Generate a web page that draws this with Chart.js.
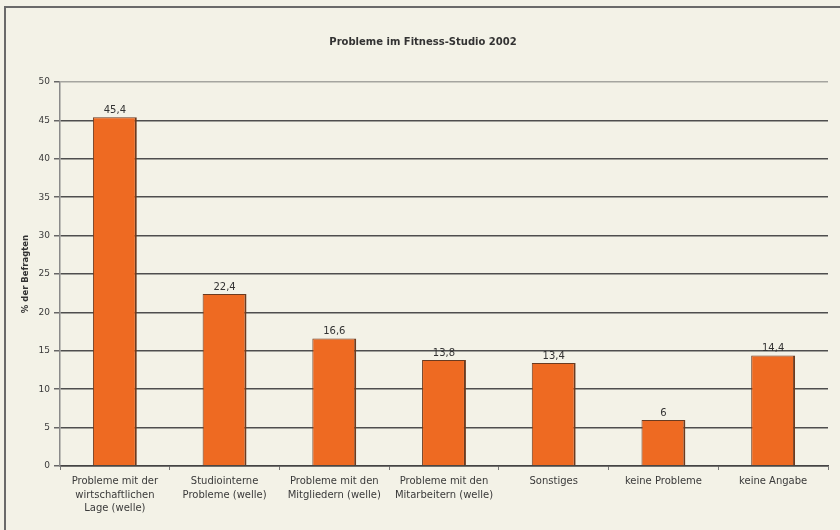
<!DOCTYPE html>
<html>
<head>
<meta charset="utf-8">
<script src="https://cdn.jsdelivr.net/npm/chart.js@4/dist/chart.umd.min.js"></script>
<style>
    html, body { margin: 0; padding: 0; background: #f3f2e7; }
    #wrap { position: relative; width: 840px; height: 530px; }
    #frame { position: absolute; left: 4px; top: 6px; width: 840px; height: 530px;
             border-top: 2px solid #6a6a6a; border-left: 2px solid #6a6a6a; pointer-events: none; }
</style>
</head>
<body>
<div id="wrap">
    <canvas id="chart" width="840" height="530"></canvas>
    <div id="frame"></div>
</div>
<script>
// Probleme im Fitness-Studio 2002
const categories = [
    ['Probleme mit der', 'wirtschaftlichen', 'Lage (welle)'],
    ['Studiointerne', 'Probleme (welle)'],
    ['Probleme mit den', 'Mitgliedern (welle)'],
    ['Probleme mit den', 'Mitarbeitern (welle)'],
    'Sonstiges',
    'keine Probleme',
    'keine Angabe'
];
const values = [45.4, 22.4, 16.6, 13.8, 13.4, 6, 14.4];
const valueLabels = ['45,4', '22,4', '16,6', '13,8', '13,4', '6', '14,4'];
const yTicks = [0, 5, 10, 15, 20, 25, 30, 35, 40, 45, 50];

const FONT = '"DejaVu Sans", Verdana, sans-serif';

// title and value labels
const labelPlugin = {
    id: 'labels',
    afterDatasetsDraw(chart) {
        const ctx = chart.ctx;
        ctx.save();
        ctx.fillStyle = '#333';
        ctx.font = 'bold 10px ' + FONT;
        ctx.textAlign = 'center';
        ctx.textBaseline = 'middle';
        ctx.fillText('Probleme im Fitness-Studio 2002', 423, 42);

        ctx.font = '10px ' + FONT;
        ctx.textBaseline = 'bottom';
        chart.getDatasetMeta(0).data.forEach((bar, i) => {
            ctx.fillText(valueLabels[i], bar.x, bar.y - 2);
        });
        ctx.restore();
    }
};

new Chart(document.getElementById('chart').getContext('2d'), {
    type: 'bar',
    data: {
        labels: categories,
        datasets: [{
            data: values,
            backgroundColor: '#ee6a22',
            borderColor: '#6b3b20',
            borderWidth: { left: 1, right: 2, top: 1, bottom: 0 },
            borderSkipped: false,
            categoryPercentage: 1,
            barPercentage: 0.4
        }]
    },
    options: {
        responsive: false,
        animation: false,
        layout: { padding: { left: 21, right: 12, top: 82, bottom: 0 } },
        plugins: {
            legend: { display: false },
            tooltip: { enabled: false }
        },
        scales: {
            x: {
                afterFit(scale) { scale.height = 64; },
                grid: {
                    display: true,
                    drawOnChartArea: false,
                    offset: true,
                    tickLength: 4,
                    color: '#777'
                },
                border: { color: '#444', width: 1.5 },
                ticks: {
                    color: '#3a3a3a',
                    font: { family: FONT, size: 10, lineHeight: 1.35 },
                    maxRotation: 0,
                    autoSkip: false,
                    padding: 5
                }
            },
            y: {
                min: 0,
                max: 50,
                afterFit(scale) { scale.width = 39; },
                afterBuildTicks(scale) { scale.ticks = yTicks.map(v => ({ value: v })); },
                grid: {
                    color: ctx => ctx.tick && ctx.tick.value === 50 ? '#a5a5a0' : '#4e4e4e',
                    lineWidth: 1.5,
                    tickLength: 6,
                    tickColor: '#666'
                },
                border: { color: '#8a8a8a', width: 1.5 },
                ticks: {
                    color: '#3a3a3a',
                    font: { family: FONT, size: 9 },
                    padding: 4
                },
                title: {
                    display: true,
                    text: '% der Befragten',
                    color: '#333',
                    font: { family: FONT, size: 8.5, weight: 'bold' },
                    padding: { top: 0, bottom: 6 }
                }
            }
        }
    },
    plugins: [labelPlugin]
});
</script>
</body>
</html>
